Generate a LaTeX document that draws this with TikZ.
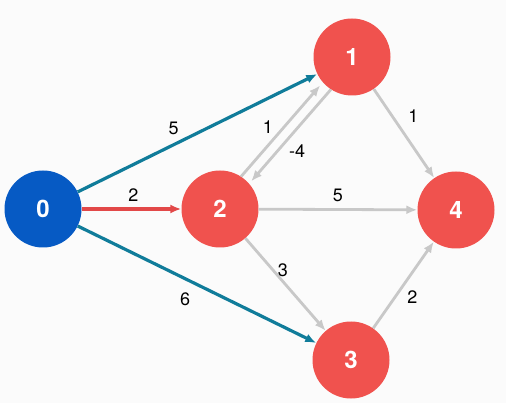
\documentclass[tikz,border=0pt]{standalone}
\usepackage{fontspec}
\setmainfont{TeX Gyre Heros}
\usepackage{tikz}
\usetikzlibrary{arrows.meta}

\definecolor{nodeblue}{RGB}{6,90,196}
\definecolor{nodered}{RGB}{240,82,78}
\definecolor{edgeteal}{RGB}{16,124,154}
\definecolor{edgered}{RGB}{226,72,72}
\definecolor{edgegray}{RGB}{200,200,200}
\definecolor{paper}{RGB}{251,251,251}

\begin{document}
\begin{tikzpicture}[
  x = 1pt, y = -1pt,
  vertex/.style = {circle, fill=nodered, minimum size=77pt, inner sep=0pt,
                   text=white, font=\fontsize{24}{26}\selectfont\bfseries},
  source/.style = {vertex, fill=nodeblue},
  arc/.style    = {-{Latex[length=11pt,width=9pt]}, line width=2.8pt, draw=edgegray},
  best/.style   = {arc, line width=3.2pt, draw=edgeteal},
  relax/.style  = {arc, line width=3.2pt, draw=edgered},
  weight/.style = {font=\fontsize{18}{20}\selectfont, text=black, inner sep=1pt}
]
  \fill[paper] (0,0) rectangle (506,403);

  \node[source] (v0) at (43,209)  {0};
  \node[vertex] (v2) at (220,209) {2};
  \node[vertex] (v1) at (352,57)  {1};
  \node[vertex] (v4) at (456,210) {4};
  \node[vertex] (v3) at (351,360) {3};

  % edges leaving the source
  \draw[best]  (v0) -- (v1) node[weight, pos=.4, above=7pt] {5};
  \draw[relax] (v0) -- (v2) node[weight, pos=.52, above=5pt] {2};
  \draw[best]  (v0) -- (v3) node[weight, pos=.45, below=11pt] {6};

  % the rest
  \draw[arc, shorten >=4pt] (v2.57) -- (v1.221) node[weight, pos=.53, left=9pt] {1};
  \draw[arc, shorten >=3pt] (v1.237) -- (v2.41) node[weight, pos=.65, right=9pt] {-4};
  \draw[arc] (v2) -- (v4) node[weight, pos=.5, above=5pt] {5};
  \draw[arc] (v2) -- (v3) node[weight, pos=.35, right=2pt] {3};
  \draw[arc] (v3) -- (v4) node[weight, pos=.36, right=10pt] {2};
  \draw[arc] (v1) -- (v4) node[weight, pos=.3, right=14pt] {1};
\end{tikzpicture}
\end{document}
